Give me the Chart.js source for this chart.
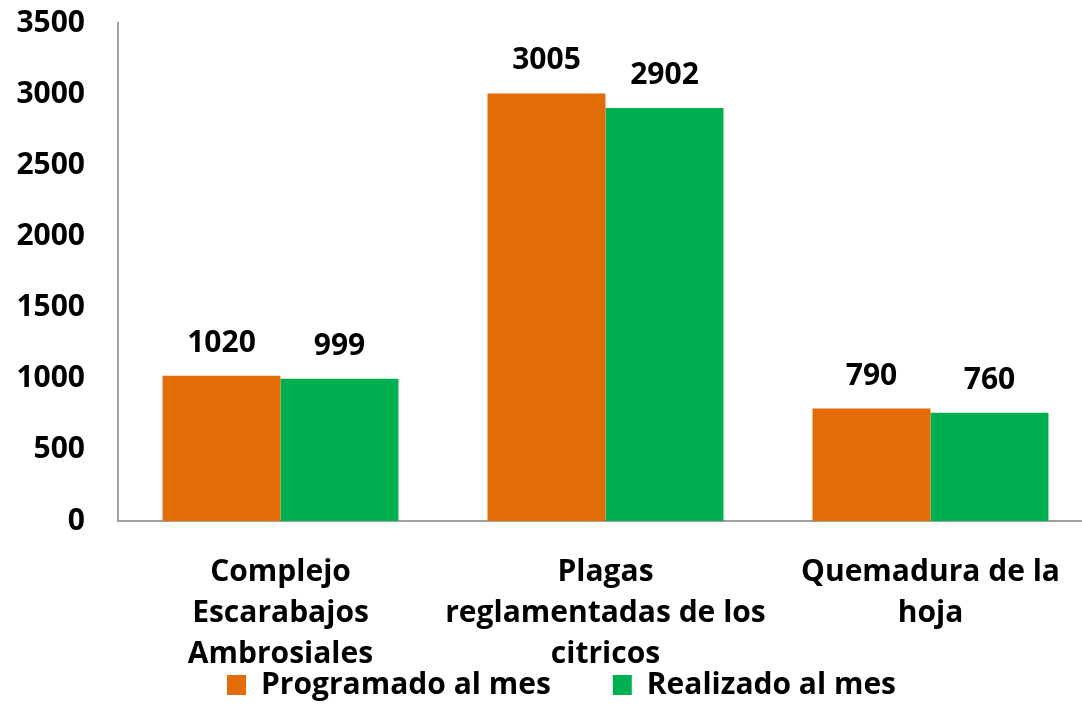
<!DOCTYPE html>
<html>
<head>
<meta charset="utf-8">
<script src="https://cdn.jsdelivr.net/npm/chart.js@4/dist/chart.umd.min.js"></script>
<style>
  html, body { margin: 0; padding: 0; background: #fff; overflow: hidden; }
  /* plot runs a little past the right edge, as in the original */
  #wrap { width: 1093px; height: 704px; }
</style>
</head>
<body>
<div id="wrap"><canvas id="myChart"></canvas></div>
<script>
// Chart data
const categories = [
    ['Complejo', 'Escarabajos', 'Ambrosiales'],
    ['Plagas', 'reglamentadas de los', 'citricos'],
    ['Quemadura de la', 'hoja']
];
const programado = [1020, 3005, 790];
const realizado = [999, 2902, 760];
const seriesNames = ['Programado al mes', 'Realizado al mes'];
const yTicks = [0, 500, 1000, 1500, 2000, 2500, 3000, 3500];

const fontFamily = '"Open Sans", Lato, sans-serif';
const fontSize = 30;

// draw the value above each bar
const valueLabels = {
    id: 'valueLabels',
    afterDatasetsDraw(chart) {
        const ctx = chart.ctx;
        ctx.save();
        ctx.font = 'bold ' + fontSize + 'px ' + fontFamily;
        ctx.fillStyle = '#000';
        ctx.textAlign = 'center';
        ctx.textBaseline = 'alphabetic';
        chart.data.datasets.forEach((ds, i) => {
            chart.getDatasetMeta(i).data.forEach((bar, j) => {
                ctx.fillText(ds.data[j], bar.x, bar.y - 24);
            });
        });
        ctx.restore();
    }
};

// nudge the legend a little to the right, like the original
const legendShift = {
    id: 'legendShift',
    afterLayout(chart) {
        chart.legend.left += 15;
        chart.legend.right += 15;
    }
};

const ctx = document.getElementById('myChart');

new Chart(ctx, {
    type: 'bar',
    data: {
        labels: categories,
        datasets: [
            { label: seriesNames[0], data: programado, backgroundColor: '#E36C09' },
            { label: seriesNames[1], data: realizado, backgroundColor: '#00B050' }
        ]
    },
    options: {
        responsive: true,
        maintainAspectRatio: false,
        animation: false,
        datasets: { bar: { categoryPercentage: 0.726, barPercentage: 1.0 } },
        layout: { padding: { left: 0, right: 0, top: 23, bottom: -6 } },
        plugins: {
            legend: {
                position: 'bottom',
                labels: {
                    color: '#000',
                    font: { family: fontFamily, size: fontSize, weight: 'bold' },
                    boxWidth: 19,
                    boxHeight: 20,
                    padding: 2,
                    // wider gap between the two legend items
                    generateLabels(chart) {
                        const items = Chart.defaults.plugins.legend.labels.generateLabels(chart);
                        items.forEach((it, i) => {
                            if (i < items.length - 1) it.text = it.text + '\u2003\u2003';
                        });
                        return items;
                    }
                }
            },
            tooltip: { enabled: false }
        },
        scales: {
            x: {
                grid: { display: false, drawTicks: false },
                border: { display: true, color: '#a0a0a0', width: 2 },
                ticks: {
                    color: '#000',
                    font: { family: fontFamily, size: fontSize, weight: 'bold', lineHeight: 1.367 },
                    maxRotation: 0,
                    autoSkip: false,
                    padding: 31
                },
                afterFit(scale) {
                    scale.height = 147;
                    scale.paddingLeft = 0;
                    scale.paddingRight = 0;
                }
            },
            y: {
                min: 0,
                max: 3500,
                afterBuildTicks(axis) {
                    axis.ticks = yTicks.map(v => ({ value: v }));
                },
                grid: { display: false, drawTicks: false },
                border: { display: true, color: '#a0a0a0', width: 2 },
                ticks: {
                    color: '#000',
                    font: { family: fontFamily, size: fontSize, weight: 'bold' },
                    padding: 33,
                    callback: v => String(v)
                },
                afterFit(scale) {
                    scale.width = 118;
                    scale.paddingTop = 0;
                    scale.paddingBottom = 0;
                }
            }
        }
    },
    plugins: [valueLabels, legendShift]
});
</script>
</body>
</html>
